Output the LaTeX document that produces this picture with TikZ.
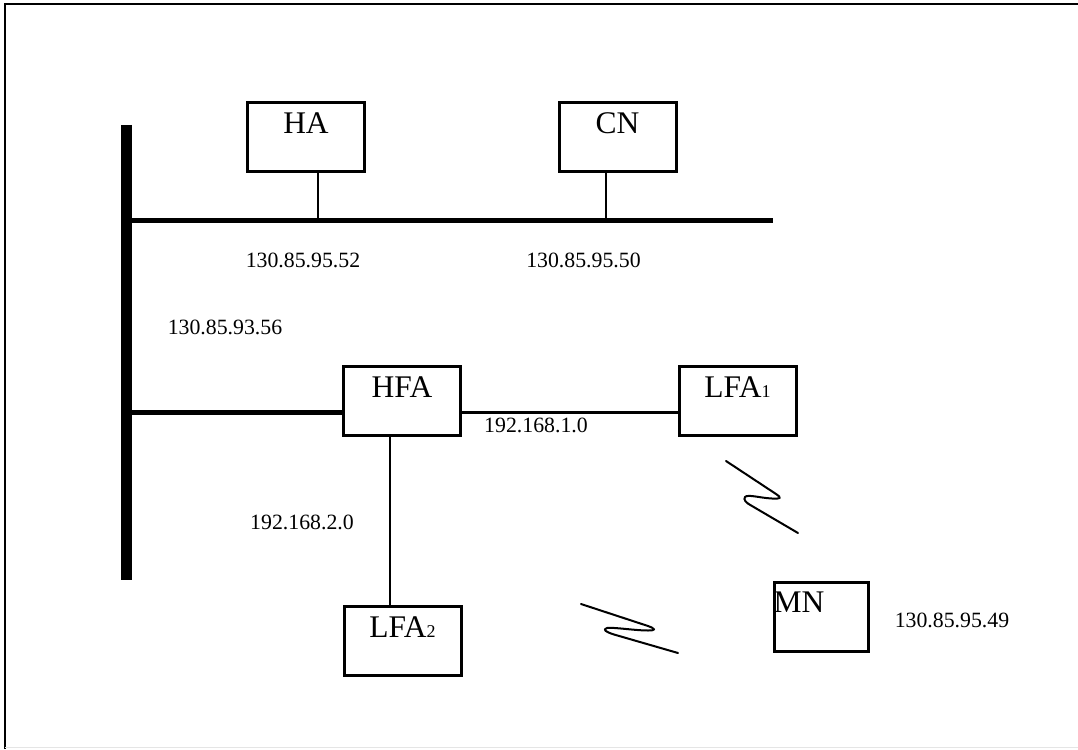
\documentclass[tikz,border=0pt]{standalone}
\usepackage{fontspec}
\setmainfont{Liberation Serif}
\begin{document}
\begin{tikzpicture}[x=1pt,y=-1pt,
  netbox/.style={draw,line width=3pt,inner sep=0pt,minimum width=117pt,minimum height=69pt},
  boxtext/.style={anchor=base,inner sep=0pt,font=\fontsize{31.5}{32}\selectfont},
  addr/.style={anchor=base,inner sep=0pt,font=\fontsize{21.8}{24}\selectfont},
  bus/.style={line width=#1,line cap=butt},
  link/.style={line width=2.2pt},
  radio/.style={line width=2pt,line cap=round,line join=round}]
\useasboundingbox (0,0) rectangle (1078,749);
% page frame
\draw[line width=2pt] (5,749) -- (5,4) -- (1078,4);
\draw[line width=1pt,black!10] (5,747.5) -- (1078,747.5);

% backbone buses
\coordinate (busTop) at (126.5,125);
\coordinate (busBot) at (126.5,580);
\coordinate (lanA) at (132,220.5);
\coordinate (lanAEnd) at (773,220.5);
\coordinate (lanB) at (132,412.5);
\draw[bus=11pt] (busTop) -- (busBot);
\draw[bus=5pt] (121,220.5) -- (lanAEnd);

% hosts
\node[netbox] (HA)   at (306,137)   {};
\node[netbox] (CN)   at (617.5,137) {};
\node[netbox] (HFA)  at (402,401)   {};
\node[netbox] (LFA1) at (737.5,401) {};
\node[netbox] (LFA2) at (402.5,641) {};
\node[netbox,minimum width=94pt] (MN) at (821.5,617) {};

\node[boxtext] (HAt)   at (306,133)   {HA};
\node[boxtext] (CNt)   at (617.5,133) {CN};
\node[boxtext] (HFAt)  at (402,397)   {HFA};
\node[boxtext] (LFA1t) at (737.5,397) {LFA{\fontsize{18}{18}\selectfont 1}};
\node[boxtext] (LFA2t) at (402.5,637) {LFA{\fontsize{18}{18}\selectfont 2}};
\node[boxtext,anchor=base west] (MNt) at (773.5,612) {MN};

% taps onto the upper segment
\coordinate (haTap) at (318,220.5);
\coordinate (cnTap) at (606,220.5);
\draw[link] (haTap |- HA.south) -- (haTap);
\draw[link] (cnTap |- CN.south) -- (cnTap);

% lower segment and foreign-agent links
\draw[bus=5pt] (121,412.5) -- (lanB -| HFA.west);
\draw[link] (lanB -| HFA.east) -- (lanB -| LFA1.west);
\coordinate (hfaTap) at (390,437);
\draw[link] (hfaTap |- HFA.south) -- (hfaTap |- LFA2.north);

% wireless hops
\draw[radio] (726,461) -- (776,494)
  .. controls (782,498) and (781,499) .. (772,498.5)
  .. controls (760,498) and (748,494) .. (745,497)
  .. controls (743,499.5) and (746,503) .. (752,506) -- (798,533);
\draw[radio] (581,604) -- (648,626)
  .. controls (656,629) and (656,630.5) .. (648,630.5)
  .. controls (635,630.5) and (613,627) .. (607,628)
  .. controls (602,629.5) and (606,632) .. (614,634.5) -- (678,653);

% addresses
\node[addr] (a52) at (303,267)   {130.85.95.52};
\node[addr] (a50) at (583.5,267) {130.85.95.50};
\node[addr] (a56) at (225,334)   {130.85.93.56};
\node[addr] (n1)  at (536,432)   {192.168.1.0};
\node[addr] (n2)  at (302,529)   {192.168.2.0};
\node[addr] (a49) at (952,627)   {130.85.95.49};
\end{tikzpicture}
\end{document}
